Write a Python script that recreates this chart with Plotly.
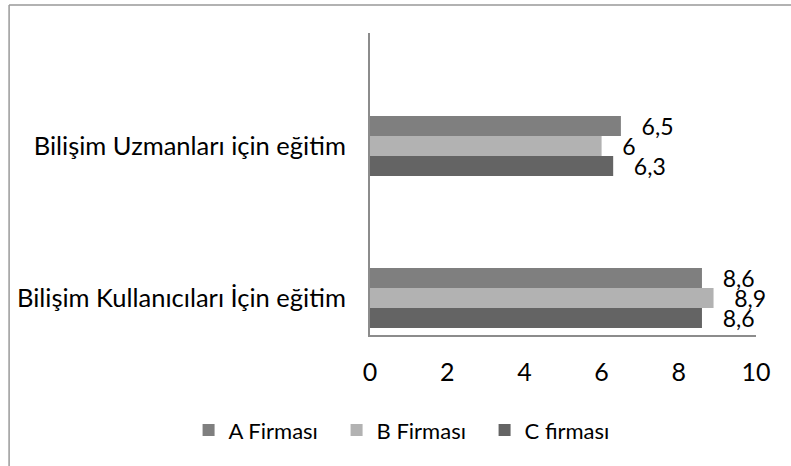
import plotly.graph_objects as go

# Training categories (bottom to top) and company scores
categories = ["Bilişim Kullanıcıları İçin eğitim", "Bilişim Uzmanları için eğitim"]
series_names = ["A Firması", "B Firması", "C firması"]
a_values = [8.6, 6.5]
b_values = [8.9, 6.0]
c_values = [8.6, 6.3]
x_ticks = [0, 2, 4, 6, 8, 10]

colors = {"A Firması": "#7f7f7f", "B Firması": "#b2b2b2", "C firması": "#646464"}
values = {"A Firması": a_values, "B Firması": b_values, "C firması": c_values}

FONT = "Lato, 'Open Sans', sans-serif"


def fmt(v):
    s = f"{v:g}"
    return s.replace(".", ",")


fig = go.Figure()
# Added C, B, A so that A sits on top within each group
for name in reversed(series_names):
    vals = values[name]
    fig.add_trace(go.Bar(
        y=categories,
        x=vals,
        name=name,
        orientation="h",
        marker=dict(color=colors[name], line=dict(width=0)),
        text=[fmt(v) for v in vals],
        texttemplate="\u00a0\u00a0\u00a0%{text}",
        textposition="outside",
        constraintext="none",
        textfont=dict(family=FONT, size=23, color="#000000"),
        cliponaxis=False,
    ))

fig.update_layout(
    width=791,
    height=466,
    margin=dict(l=370, r=35, t=33, b=131, autoexpand=False),
    paper_bgcolor="white",
    plot_bgcolor="white",
    barmode="group",
    bargap=0.605,
    bargroupgap=0,
    font=dict(family=FONT, size=24, color="#000000"),
    showlegend=True,
    legend=dict(
        orientation="h",
        traceorder="reversed",
        x=-0.47, xanchor="left",
        y=-0.315, yanchor="middle",
        font=dict(family=FONT, size=22, color="#000000"),
        itemwidth=30,
        entrywidth=103,
        entrywidthmode="pixels",
    ),
    xaxis=dict(
        range=[0, 10],
        tickvals=x_ticks,
        ticktext=[str(t) for t in x_ticks],
        showgrid=False,
        zeroline=False,
        showline=True,
        linecolor="#8c8c8c",
        linewidth=2,
        ticks="",
        ticklabelstandoff=14,
        tickfont=dict(family=FONT, size=25),
        fixedrange=True,
    ),
    yaxis=dict(
        range=[-0.243, 1.743],
        showgrid=False,
        zeroline=False,
        showline=True,
        linecolor="#8c8c8c",
        linewidth=2,
        ticks="",
        ticklabelstandoff=17,
        tickfont=dict(family=FONT, size=25.5),
        fixedrange=True,
    ),
    shapes=[
        # outer frame: top and left edges
        dict(type="line", xref="paper", yref="paper",
             x0=-0.935, x1=1.2, y0=1.0927, y1=1.0927,
             line=dict(color="#999999", width=1.5)),
        dict(type="line", xref="paper", yref="paper",
             x0=-0.935, x1=-0.935, y0=1.0927, y1=-0.5,
             line=dict(color="#999999", width=1.5)),
    ],
)

fig.write_html("out.html")
